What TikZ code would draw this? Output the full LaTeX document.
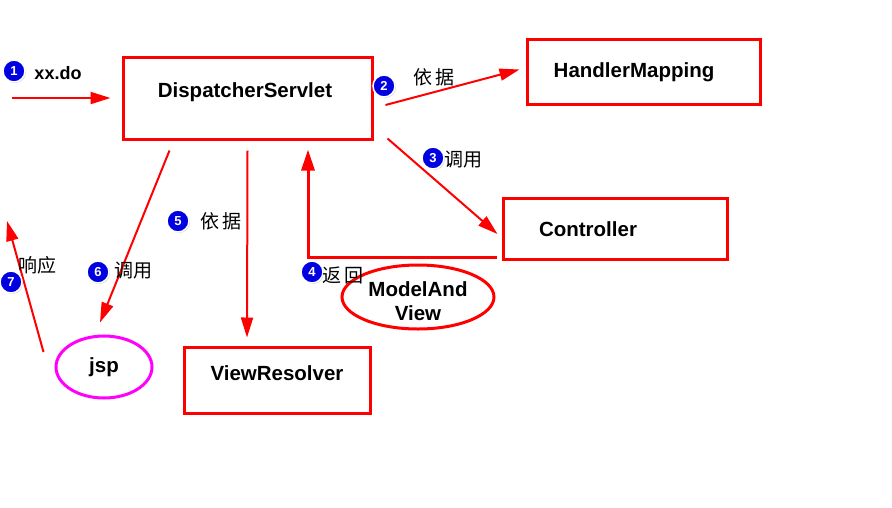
\documentclass[tikz,border=0pt]{standalone}
\usepackage{fontspec}
\setmainfont{Liberation Sans}
\newfontfamily\cjk{Noto Sans CJK SC}
\usetikzlibrary{arrows.meta,shadows,shapes.geometric}
\definecolor{numblue}{RGB}{0,0,225}
\definecolor{pinkline}{RGB}{255,0,255}
\begin{document}
\begin{tikzpicture}[x=1pt,y=-1pt,
  box/.style={draw=red, line width=3pt, inner sep=0pt},
  lbl/.style={font=\fontsize{20.5}{24}\selectfont\bfseries, inner sep=0pt, align=center},
  cn/.style={font=\fontsize{19}{20}\selectfont\cjk, inner sep=0pt},
  arr/.style={draw=red, line width=2pt, -{Triangle[length=20pt,width=12pt]}},
  num/.style={circle, fill=numblue, draw=white, line width=1.5pt,
    minimum size=22pt, inner sep=0pt, text=white, font=\fontsize{13}{13}\selectfont\bfseries,
    drop shadow={shadow xshift=1pt, shadow yshift=-1pt, opacity=0.35}}
]
\path[use as bounding box, fill=white] (0,0) rectangle (892,507);

% boxes
\node[box, minimum width=249pt, minimum height=82pt] (ds) at (247.5,98) {};
\node[lbl] (dst) at (245,92) {DispatcherServlet};
\node[box, minimum width=233pt, minimum height=65pt] (hm) at (643.5,71.5) {};
\node[lbl] (hmt) at (634,72) {HandlerMapping};
\node[box, minimum width=224pt, minimum height=61pt] (ctl) at (615,228.5) {};
\node[lbl] (ctlt) at (588,229) {Controller};
\node[box, minimum width=186pt, minimum height=66pt] (vr) at (277,380) {};
\node[lbl] (vrt) at (277,373) {ViewResolver};
\node[ellipse, draw=red, line width=3pt, minimum width=152pt, minimum height=64pt, inner sep=0pt] (mav) at (418,297) {};
\node[lbl] (mavt) at (418,301) {ModelAnd\\View};
\node[ellipse, draw=pinkline, line width=3pt, minimum width=96pt, minimum height=62pt, inner sep=0pt] (jsp) at (104,367) {};
\node[lbl] (jspt) at (104,367) {jsp};

% connectors
\coordinate (in) at (12,98);
\draw[arr] (in) -- ([shift={(-11,0)}]ds.west);
\draw[arr] ([shift={(12,7)}]ds.east) -- ([shift={(-6,-2)}]hm.west);
\draw[arr] ([shift={(14,-2)}]ds.south east) -- ([shift={(-4,5.5)}]ctl.west);
\draw[draw=red, line width=3pt, -{Triangle[length=21pt,width=13pt]}]
  ([shift={(-5,-3)}]ctl.south west) -| ([shift={(60.5,9)}]ds.south);
\draw[arr] ([shift={(0,10)}]ds.south) -- ([shift={(-30,-8)}]vr.north);
\draw[arr] ([shift={(48,10)}]ds.south west) -- ([shift={(-4,-12)}]jsp.north);
\coordinate (out) at (7,221);
\draw[arr] ([shift={(-11,-15)}]jsp.west) -- (out);

% numbers and labels
\node[num] (n1) at (14,71) {1};
\node[font=\fontsize{18}{20}\selectfont\bfseries, inner sep=0pt] (l1) at (58,73) {xx.do};
\node[num] (n2) at (384,86) {2};
\node[cn] (l2) at (434,77) {依\hspace{3pt}据};
\node[num] (n3) at (433,158) {3};
\node[cn] (l3) at (463,160) {调用};
\node[num] (n4) at (312,272) {4};
\node[cn] (l4) at (343,275) {返\hspace{3pt}回};
\node[num] (n5) at (178,221) {5};
\node[cn] (l5) at (221,221) {依\hspace{3pt}据};
\node[num] (n6) at (98,272) {6};
\node[cn] (l6) at (133,271) {调用};
\node[num] (n7) at (11,282) {7};
\node[cn] (l7) at (38,265) {响应};
\end{tikzpicture}
\end{document}
